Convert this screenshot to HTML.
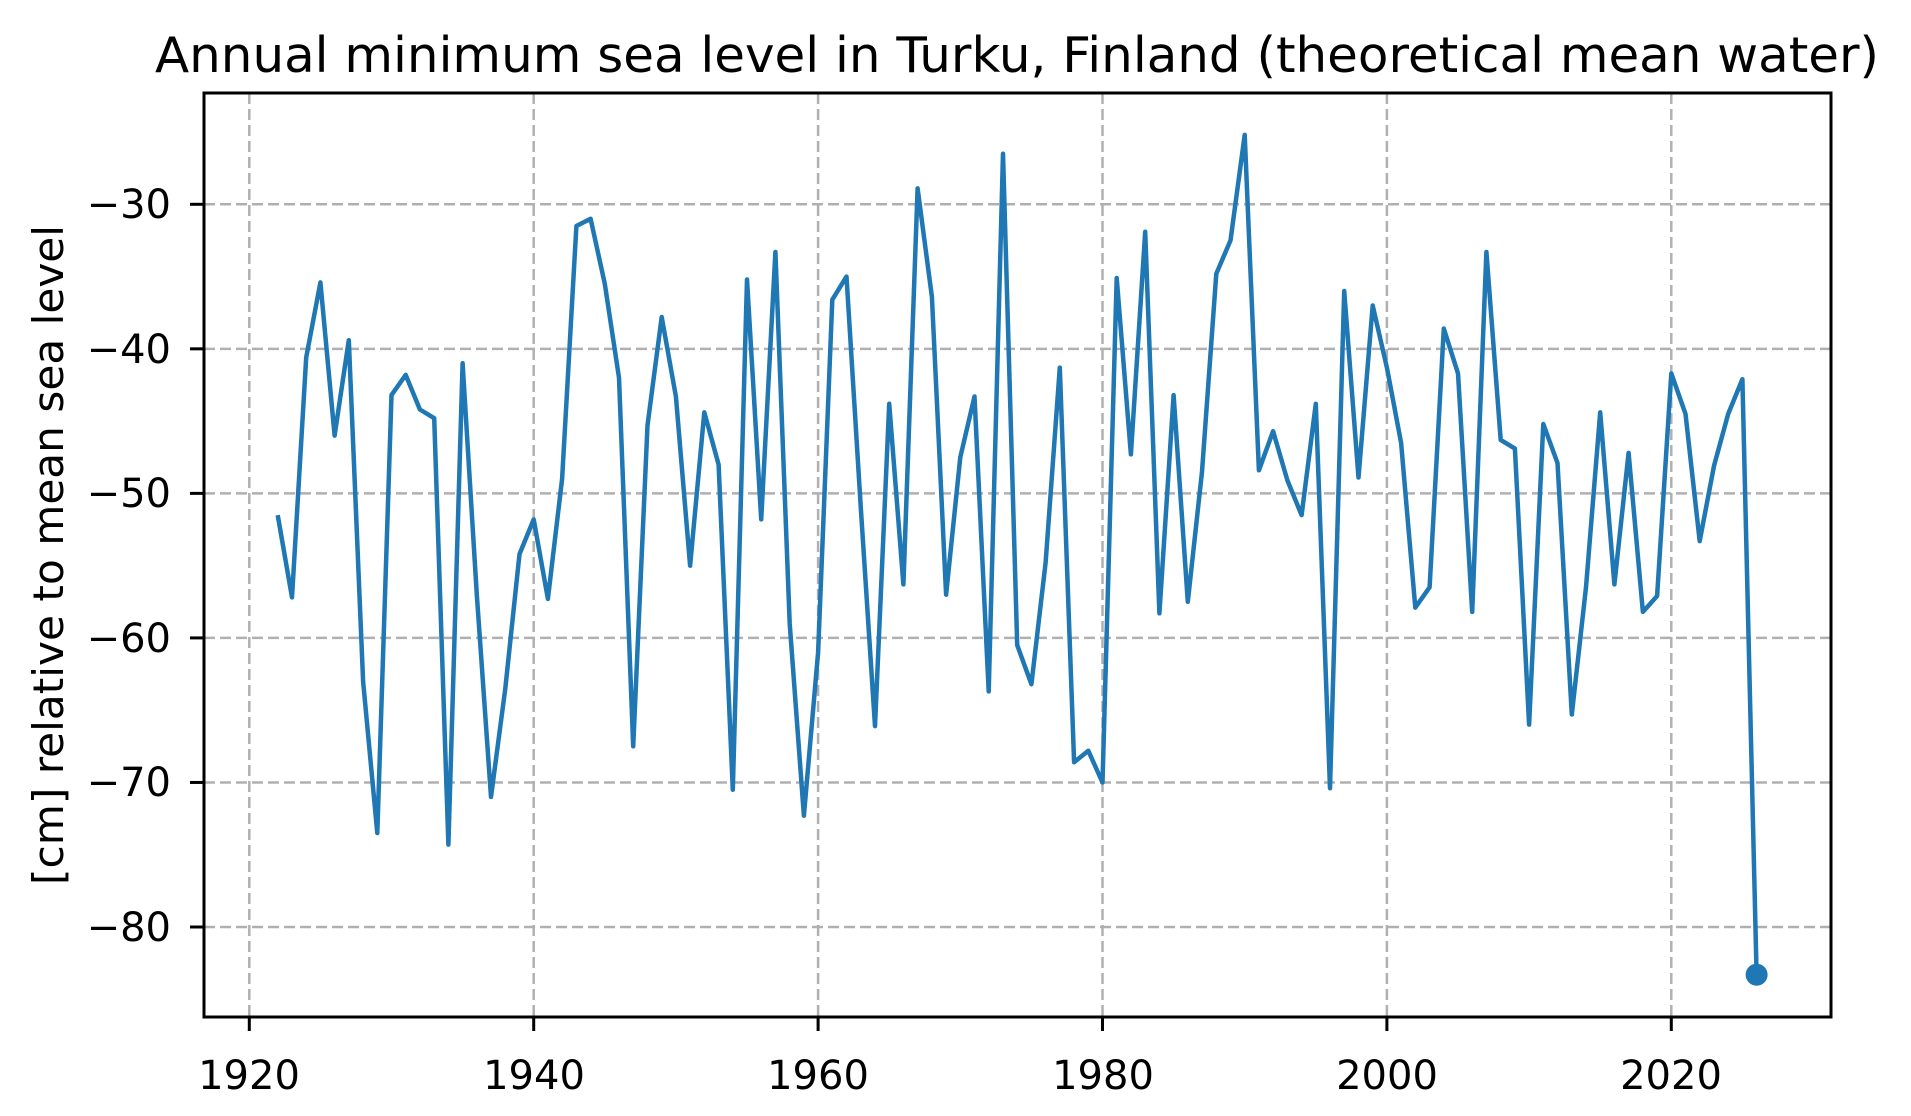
<!DOCTYPE html>
<html><head><meta charset="utf-8"><style>
html,body{margin:0;padding:0;background:#fff;}
svg{display:block;}
text{font-family:"DejaVu Sans","Liberation Sans",sans-serif;fill:#000;}
</style></head><body>
<svg id="s" width="1911" height="1116" viewBox="0 0 1911 1116" xmlns="http://www.w3.org/2000/svg">
<rect width="1911" height="1116" fill="#fff"/>
<g id="grid" stroke="#b0b0b0" stroke-width="2.5" stroke-dasharray="11,5"></g>
<polyline id="line" fill="none" stroke="#1f77b4" stroke-width="4.5" stroke-linejoin="round" points=""/>
<circle id="dot" r="11" fill="#1f77b4"/>
<rect x="204" y="93" width="1627" height="924" fill="none" stroke="#000" stroke-width="3"/>
<g id="ticks" stroke="#000" stroke-width="3"></g>
<g font-size="40" text-anchor="end">
<text x="171" y="218">−30</text>
<text x="171" y="363">−40</text>
<text x="171" y="507">−50</text>
<text x="171" y="652">−60</text>
<text x="171" y="796">−70</text>
<text x="171" y="941">−80</text>
</g>
<g font-size="40" text-anchor="middle">
<text x="249" y="1089">1920</text>
<text x="534" y="1089">1940</text>
<text x="818" y="1089">1960</text>
<text x="1103" y="1089">1980</text>
<text x="1387" y="1089">2000</text>
<text x="1671" y="1089">2020</text>
</g>
<text x="1017" y="72" font-size="49" text-anchor="middle" textLength="1724" lengthAdjust="spacingAndGlyphs">Annual minimum sea level in Turku, Finland (theoretical mean water)</text>
<text x="0" y="0" font-size="42" text-anchor="middle" transform="translate(63,555) rotate(-90)" textLength="660" lengthAdjust="spacingAndGlyphs">[cm] relative to mean sea level</text>
</svg>
<script>
var d=[-51.5,-57.2,-40.6,-35.4,-46,-39.4,-63,-73.5,-43.2,-41.8,-44.2,-44.8,-74.3,-41,-57,-71,-63.5,-54.2,-51.8,-57.3,-49,-31.5,-31,-35.5,-42,-67.5,-45.3,-37.8,-43.3,-55,-44.4,-48,-70.5,-35.2,-51.8,-33.3,-59,-72.3,-61,-36.6,-35,-51,-66.1,-43.8,-56.3,-28.9,-36.4,-57,-47.5,-43.3,-63.7,-26.5,-60.5,-63.2,-54.8,-41.3,-68.6,-67.8,-70,-35.1,-47.3,-31.9,-58.3,-43.2,-57.5,-48.5,-34.8,-32.5,-25.2,-48.4,-45.7,-49.1,-51.5,-43.8,-70.4,-36,-48.9,-37,-41.3,-46.5,-57.9,-56.5,-38.6,-41.7,-58.2,-33.3,-46.3,-46.9,-66,-45.2,-47.9,-65.3,-56.5,-44.4,-56.3,-47.2,-58.2,-57.1,-41.7,-44.5,-53.3,-48.1,-44.5,-42.1,-83.3];
function X(y){return 249.3+(y-1920)*14.22;}
function Y(v){return 204.3+(-30-v)*14.454;}
var p=[];for(var i=0;i<d.length;i++){p.push(X(1922+i).toFixed(1)+","+Y(d[i]).toFixed(1));}
document.getElementById("line").setAttribute("points",p.join(" "));
var dt=document.getElementById("dot");dt.setAttribute("cx",X(2026));dt.setAttribute("cy",Y(-83.3));
var g=document.getElementById("grid"),t=document.getElementById("ticks"),ns="http://www.w3.org/2000/svg";
function L(par,x1,y1,x2,y2){var l=document.createElementNS(ns,"line");l.setAttribute("x1",x1);l.setAttribute("y1",y1);l.setAttribute("x2",x2);l.setAttribute("y2",y2);par.appendChild(l);}
for(var yr=1920;yr<=2020;yr+=20){var x=X(yr);L(g,x,93,x,1017);L(t,x,1017,x,1031);}
for(var v=-30;v>=-80;v-=10){var y=Y(v);L(g,204,y,1831,y);L(t,190,y,204,y);}
</script>
</body></html>
